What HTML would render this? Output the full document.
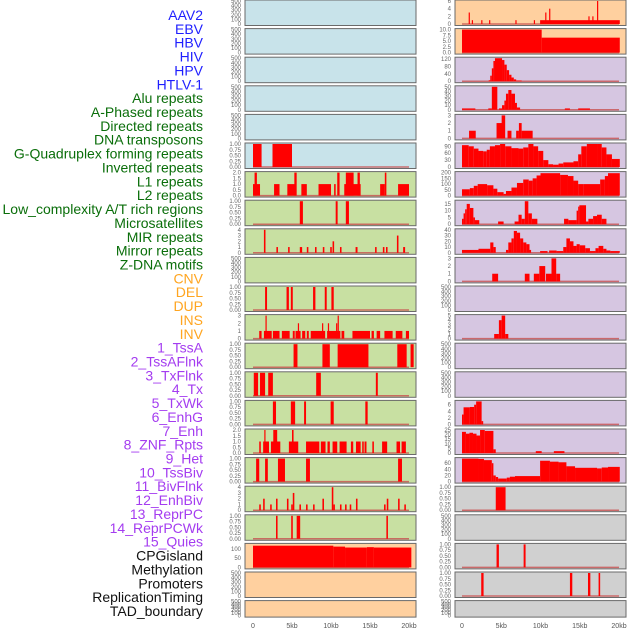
<!DOCTYPE html>
<html><head><meta charset="utf-8"><style>
body{margin:0;background:#fff;}
svg{display:block;font-family:"Liberation Sans",sans-serif;}
</style></head><body>
<svg id="chart" width="630" height="630" viewBox="0 0 630 630"></svg>
<script>
const labels=["AAV2","EBV","HBV","HIV","HPV","HTLV-1","Alu repeats","A-Phased repeats","Directed repeats","DNA transposons","G-Quadruplex forming repeats","Inverted repeats","L1 repeats","L2 repeats","Low_complexity A/T rich regions","Microsatellites","MIR repeats","Mirror repeats","Z-DNA motifs","CNV","DEL","DUP","INS","INV","1_TssA","2_TssAFlnk","3_TxFlnk","4_Tx","5_TxWk","6_EnhG","7_Enh","8_ZNF_Rpts","9_Het","10_TssBiv","11_BivFlnk","12_EnhBiv","13_ReprPC","14_ReprPCWk","15_Quies","CPGisland","Methylation","Promoters","ReplicationTiming","TAD_boundary"];
const labelColors=["#1f1fff","#1f1fff","#1f1fff","#1f1fff","#1f1fff","#1f1fff","#0a6e0a","#0a6e0a","#0a6e0a","#0a6e0a","#0a6e0a","#0a6e0a","#0a6e0a","#0a6e0a","#0a6e0a","#0a6e0a","#0a6e0a","#0a6e0a","#0a6e0a","#ffa520","#ffa520","#ffa520","#ffa520","#ffa520","#a43cf0","#a43cf0","#a43cf0","#a43cf0","#a43cf0","#a43cf0","#a43cf0","#a43cf0","#a43cf0","#a43cf0","#a43cf0","#a43cf0","#a43cf0","#a43cf0","#a43cf0","#111","#111","#111","#111","#111"];
const xTicks=[0,5,10,15,20];
const xTickLabels=["0","5kb","10kb","15kb","20kb"];
const t500=["0","100","200","300","400","500"], v500=[0,100,200,300,400,500];
const t1=["0.00","0.25","0.50","0.75","1.00"], v1=[0,0.25,0.5,0.75,1];
const t2=["0.0","0.5","1.0","1.5","2.0"], v2=[0,0.5,1,1.5,2];
// track data: [startKb, endKb, value]
const L_htlv=[[0,1.1,1],[2.5,5,1]];
const L_alu=[[0,0.9,1],[0.2,0.5,2],[2.7,3.4,1],[4.4,5.5,1],[5.3,5.6,2],[6.2,6.9,1],[8.4,10,1],[10.4,10.6,1],[10.8,11.1,2],[11.7,13.5,1],[11.9,12.9,2],[13.4,13.7,2],[13.5,13.8,1],[16.3,16.9,1],[16.9,17.1,2],[18.6,20,1]];
const L_aph=[[6,6.4,1],[10.6,10.85,1],[11.9,12.3,1]];
const L_dir=[[1.4,1.6,4],[3,3.2,1],[4.5,4.7,1],[6,6.3,1],[6.9,7.1,1],[7.95,8.15,1],[8.95,9.15,1],[9.9,10.1,1],[10.2,10.4,2],[11.15,11.35,1],[13.15,13.4,1],[15.65,15.85,1],[16.65,16.85,1],[17.05,17.25,1],[18.45,18.65,3],[19.25,19.5,1]];
const L_gq=[[1.55,1.8,1],[4.3,4.6,1],[4.85,5.1,1],[7.7,8,1],[9.2,9.45,1],[10.05,10.35,1]];
const L_inv=[[0.8,1.1,1],[1.4,2.4,1],[1.6,1.75,3],[2.55,3.4,1],[3.7,4.7,1],[5.1,5.35,1],[5.45,6.1,1],[5.75,5.9,2],[6.3,6.7,1],[6.9,7.15,1],[7.4,9.25,1],[8.85,9,2],[9.5,11.2,1],[9.6,9.75,2],[10.65,10.8,2],[10.85,11,3],[11.35,11.7,1],[12.75,15,1],[15.2,15.5,1],[15.85,16.3,1],[16.85,17.9,1],[18.3,19.15,1],[19.6,20,1]];
const L_lc=[[5.2,5.7,1],[8.9,9.85,1],[10.85,14.8,1],[18.5,19.7,1],[20.2,20.6,1]];
const L_ms=[[0.1,0.65,1],[0.9,1.55,1],[1.95,2.55,1],[8.1,8.7,1],[15.75,16,1]];
const L_mir=[[2.55,2.95,1],[4.85,5.4,1],[6.55,6.8,1],[9.95,10.35,1],[14.4,14.7,1]];
const L_mir2=[[0.8,1,1],[1.3,2.05,1],[1.45,1.6,2],[2.3,3.5,1],[2.6,3.1,2],[4.6,5.8,1],[5.0,5.2,2],[6.8,8.5,1],[8.7,9.3,1],[9.55,9.85,1],[10.2,10.8,1],[11.1,12,1],[12.55,12.85,1],[13.2,13.8,1],[14,14.2,1],[14.3,14.55,1],[15.3,15.5,1],[16.55,17.2,1],[18.4,18.85,1],[19.05,19.6,1]];
const L_z=[[0.4,0.8,1],[1.55,1.9,1],[3.2,4.1,1],[6.8,7.3,1],[18.6,19.1,1]];
const L_cnv=[[0.8,1,1],[1.3,1.5,2],[2.2,2.4,1],[2.95,3.15,2],[4.35,4.55,2],[4.9,5.1,1],[5.1,5.3,3],[5.95,6.15,1],[6.8,7,1],[7.7,7.9,1],[8.9,9.1,2],[10.1,10.3,4],[10.3,10.5,1],[11.15,11.35,1],[11.8,12,1],[12.4,12.6,1],[13.2,13.4,2],[16.8,17,1],[17.15,17.35,2],[18.6,18.8,2],[19.4,19.6,1]];
const L_del=[[2.95,3.15,1],[4.9,5.1,1],[5.6,6.05,1],[17.1,17.3,1]];
const L_cpg=[[0,10.3,118],[10.3,11.8,113],[11.8,14.6,108],[14.6,15.5,110],[15.5,20.3,108]];
const R_ins=[[0.85,1.0,3],[1.25,1.4,1],[2.45,2.6,1],[3.45,3.6,1],[6.8,6.95,1],[9.15,9.3,1],[9.95,20.1,1],[10.6,10.75,3],[11.1,11.25,4],[16.1,16.25,2],[16.6,16.75,2],[17.2,17.35,6]];
const R_inv=[[0,10.15,10],[10.15,20.1,6.5]];
const R_tssa=[[3.4,3.6,5],[3.6,3.8,30],[3.8,4,70],[4,4.2,110],[4.2,5.1,125],[5.1,5.4,115],[5.4,5.7,90],[5.7,6,60],[6,6.3,35],[6.3,6.6,20],[6.6,6.9,10],[6.9,7.6,4]];
const R_tssaf=[[0,1.7,3],[3.35,3.8,3],[3.8,4.5,50],[4.7,5.1,3],[5.1,5.4,10],[5.4,5.6,20],[5.6,5.9,35],[5.9,6.3,43],[6.3,6.75,35],[6.75,7,15],[7,7.4,5],[13.1,13.75,3],[14.8,16.3,3]];
const R_txf=[[0.9,1.75,1],[4.4,5.15,2],[5.05,5.5,3],[5.8,6.3,1],[6.9,7.25,1],[7.25,7.6,2],[7.6,9,1]];
const R_txK=[0,0.85,1.5,2.1,2.7,3.15,3.55,4.2,4.85,5.5,6.3,7.2,7.8,8.45,9.1,9.7,10.35,11,11.6,12.3,12.9,14.2,14.8,15.2,15.9,17.2,17.8,18.4,19.1,20.1];
const R_txV=[95,90,80,70,68,75,90,95,100,90,82,80,85,100,90,70,30,12,10,15,20,25,55,90,100,100,85,55,35,25];
const R_txwk=[[0,1,55],[1,1.5,65],[1.5,2,85],[2,3.2,100],[3.2,4,90],[4,4.5,60],[4.5,5.3,30],[5.3,5.6,15],[5.6,6.3,40],[6.3,7,70],[7,7.8,110],[7.8,8.5,140],[8.5,9,130],[9,9.5,150],[9.5,10,175],[10,12.5,195],[12.5,13.5,180],[13.5,14.2,170],[14.2,14.8,130],[14.8,15.5,100],[15.5,17.6,100],[17.6,18.2,140],[18.2,18.6,170],[18.6,20.1,195]];
const R_enhg=[[0,0.2,4],[0.2,0.4,8],[0.4,0.6,11],[0.6,1,15],[1,1.45,12],[1.45,1.65,5],[1.65,2.2,3],[4.6,5.3,2],[6.7,7.2,2],[7.2,7.6,7],[7.6,8,4],[8,8.45,17],[8.45,8.9,8],[8.9,9.6,4],[13,13.55,4],[13.55,14.6,3],[14.6,14.8,10],[14.8,14.95,13],[14.95,15.8,14],[15.8,16.1,2],[16.1,16.7,4],[16.7,17.2,6],[17.2,17.8,7],[17.8,18.4,4]];
const R_enh=[[0,2.1,5],[2.1,3.6,7],[3.6,4,18],[4,4.3,10],[5.6,5.9,5],[5.9,6.3,18],[6.3,6.6,25],[6.6,7,38],[7,7.4,35],[7.4,7.8,25],[7.8,8.2,18],[8.2,8.6,15],[8.6,8.8,5],[9.95,10.9,3],[11.1,12.05,4],[12.05,12.9,3],[12.9,13.3,10],[13.3,13.75,25],[13.75,14.2,20],[14.2,14.6,12],[14.6,15,15],[15,15.7,13],[15.7,16.3,8],[16.3,17,3],[17,17.4,8],[17.4,18,12],[18,18.4,7],[18.4,18.9,4],[18.9,20.1,3]];
const R_znf=[[3.85,4.6,1],[8,8.6,1],[9.15,9.85,1],[9.85,10.6,2],[10.7,11.4,1],[11.4,12,3],[12,12.5,1]];
const R_tssbiv=[[4.1,4.7,1],[4.7,5.05,4],[5.05,5.5,5],[5.5,5.9,1]];
const R_reprpc=[[0,0.2,3],[0.2,1,5.2],[1,1.55,5.3],[1.55,1.8,6],[1.8,2.5,7],[2.5,2.7,1]];
const R_reprwk=[[0,0.5,23],[0.5,0.95,21],[0.95,1.4,22],[1.4,1.85,21],[1.85,2.3,19],[2.3,2.9,25],[2.9,4,24],[4,4.3,4],[9.4,10.15,2],[11.7,13.05,2]];
const R_quies=[[0,2.1,75],[2.1,2.8,74],[2.8,3.8,70],[3.8,4,60],[4,4.3,20],[4.3,4.6,15],[4.6,5.7,10],[5.7,6.1,13],[6.1,6.75,16],[6.75,9.95,18],[9.95,11.2,68],[11.2,12.3,65],[12.3,13.3,63],[13.3,14.4,50],[14.4,17.2,45],[17.2,17.8,43],[17.8,18.6,46],[18.6,20.1,48]];
const R_cpg=[[4.3,5.55,1]];
const R_prom=[[4.4,4.7,1],[7.85,8.1,1]];
const R_rep=[[2.45,2.75,1],[13.75,14.05,1],[16.05,16.35,1],[17.4,17.6,1]];

function stepToSegs(k,v){const s=[];for(let i=0;i<k.length-1;i++)s.push([k[i],k[i+1],v[i]]);return s;}
const C={b:"#c8e3ea",g:"#c8e0a2",o:"#ffd09f",p:"#d6c6e1",y:"#d0d0d0"};
const panels=[
[0,0,C.b,500,v500,t500,null,"aav2"],[0,1,C.b,500,v500,t500,null,"ebv"],[0,2,C.b,500,v500,t500,null,"hbv"],[0,3,C.b,500,v500,t500,null,"hiv"],[0,4,C.b,500,v500,t500,null,"hpv"],[0,5,C.b,1,v1,t1,L_htlv,"htlv1"],
[0,6,C.g,2,v2,t2,L_alu,"alu"],[0,7,C.g,1,v1,t1,L_aph,"a-phased"],[0,8,C.g,4,[0,1,2,3,4],["0","1","2","3","4"],L_dir,"directed"],[0,9,C.g,500,v500,t500,null,"dna-transposons"],[0,10,C.g,1,v1,t1,L_gq,"g-quadruplex"],[0,11,C.g,3,[0,1,2,3],["0","1","2","3"],L_inv,"inverted"],[0,12,C.g,1,v1,t1,L_lc,"l1"],[0,13,C.g,1,v1,t1,L_ms,"l2"],[0,14,C.g,1,v1,t1,L_mir,"low-complexity"],[0,15,C.g,2,v2,t2,L_mir2,"microsatellites"],[0,16,C.g,1,v1,t1,L_z,"mir"],[0,17,C.g,4,[0,1,2,3,4],["0","1","2","3","4"],L_cnv,"mirror"],[0,18,C.g,1,v1,t1,L_del,"z-dna"],
[0,19,C.o,125,[0,50,100],["0","50","100"],L_cpg,"cnv"],[0,20,C.o,500,v500,t500,null,"del"],[0,21,C.o,500,v500,t500,null,"dup"],
[1,0,C.o,6,[0,2,4,6],["0","2","4","6"],R_ins,"ins"],[1,1,C.o,10,[0,2.5,5,7.5,10],["0.0","2.5","5.0","7.5","10.0"],R_inv,"inv"],
[1,2,C.p,125,[0,40,80,120],["0","40","80","120"],R_tssa,"tssa"],[1,3,C.p,50,[0,10,20,30,40,50],["0","10","20","30","40","50"],R_tssaf,"tssaflnk"],[1,4,C.p,3,[0,1,2,3],["0","1","2","3"],R_txf,"txflnk"],[1,5,C.p,100,[0,30,60,90],["0","30","60","90"],stepToSegs(R_txK,R_txV),"tx"],[1,6,C.p,200,[0,50,100,150,200],["0","50","100","150","200"],R_txwk,"txwk"],
[1,7,C.p,17,[0,5,10,15],["0","5","10","15"],R_enhg,"enhg"],[1,8,C.p,40,[0,10,20,30,40],["0","10","20","30","40"],R_enh,"enh"],[1,9,C.p,3,[0,1,2,3],["0","1","2","3"],R_znf,"znf-rpts"],[1,10,C.p,500,v500,t500,null,"het"],[1,11,C.p,5,[0,1,2,3,4,5],["0","1","2","3","4","5"],R_tssbiv,"tssbiv"],[1,12,C.p,500,v500,t500,null,"bivflnk"],[1,13,C.p,500,v500,t500,null,"enhbiv"],[1,14,C.p,7,[0,2,4,6],["0","2","4","6"],R_reprpc,"reprpc"],[1,15,C.p,25,[0,5,10,15,20,25],["0","5","10","15","20","25"],R_reprwk,"reprpcwk"],[1,16,C.p,75,[0,20,40,60],["0","20","40","60"],R_quies,"quies"],
[1,17,C.y,1,v1,t1,R_cpg,"cpgisland"],[1,18,C.y,500,v500,t500,null,"methylation"],[1,19,C.y,1,v1,t1,R_prom,"promoters"],[1,20,C.y,1,v1,t1,R_rep,"replication-timing"],[1,21,C.y,500,v500,t500,null,"tad-boundary"]
];
const NS="http://www.w3.org/2000/svg";
const svg=document.getElementById("chart");
function mk(t,a,p){const e=document.createElementNS(NS,t);for(const k in a)e.setAttribute(k,a[k]);(p||svg).appendChild(e);return e;}
labels.forEach((l,i)=>{
  const t=mk("text",{x:203,y:15+i*13.86+5,"text-anchor":"end","font-size":"14",fill:labelColors[i]});
  t.textContent=l;
  
  
});
const colX=[[245,416,253,409],[455,626,462,619]];
function panelTop(r){return r*28.6;}
panels.forEach(p=>{
  const [c,r,bg,ymax,tv,tl,data,name]=p;
  const [x0,x1,k0,k20]=colX[c];
  const top=panelTop(r), h=(r===21?16.5:25.5), bot=top+h;
  const xs=kb=>k0+(k20-k0)*kb/20;
  const ys=v=>(bot-1.5)-(h-2.5)*v/ymax;
  const g=mk("g",{});
  
  
  const rect=mk("rect",{x:x0,y:top,width:x1-x0,height:h,fill:bg,stroke:"#6a6a6a","stroke-width":"1"},g);
  
  
  if(data){
    mk("line",{x1:xs(0),x2:xs(20),y1:ys(0),y2:ys(0),stroke:"#c85050","stroke-width":"1.5","stroke-opacity":"0.8"},g);
    data.forEach(d=>{
      const bx=xs(d[0]),bw=Math.max(1.2,xs(d[1])-xs(d[0]));
      const yv=Math.max(top+0.5,ys(d[2]));
      const b=mk("rect",{x:bx,y:yv,width:bw,height:Math.max(0,ys(0)-yv),fill:"#ff0000"},g);
      
      
    });
  }
  tv.forEach((v,i)=>{
    const t=mk("text",{x:x0-4,y:ys(v)+2,"text-anchor":"end","font-size":"6",fill:"#666"},g);
    t.textContent=tl[i];
    
    
  });
});
[0,1].forEach(c=>{
  const [x0,x1,k0,k20]=colX[c];
  xTicks.forEach((v,i)=>{
    const t=mk("text",{x:k0+(k20-k0)*v/20,y:628,"text-anchor":"middle","font-size":"7",fill:"#555"});
    t.textContent=xTickLabels[i];
    
    
  });
});
</script>
</body></html>
